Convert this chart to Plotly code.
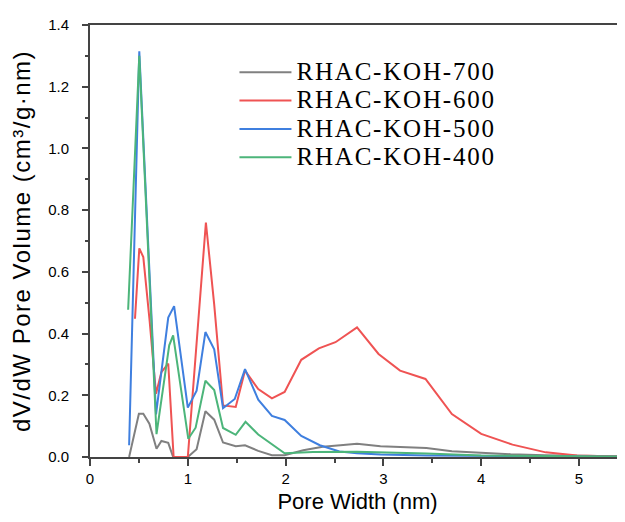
import plotly.graph_objects as go

# Pore width (nm) and dV/dW (cm3/g/nm)
x_700 = [0.40, 0.50, 0.545, 0.607, 0.68, 0.73, 0.80, 0.85, 1.00, 1.09, 1.18, 1.27, 1.36, 1.49, 1.585,
         1.72, 1.86, 1.99, 2.18, 2.38, 2.56, 2.73, 2.97, 3.20, 3.44, 3.70, 4.00, 4.30, 4.65, 5.00, 5.30, 5.60]
y_700 = [0.0, 0.140, 0.140, 0.108, 0.027, 0.052, 0.046, 0.0, 0.0, 0.025, 0.148, 0.121, 0.047, 0.035, 0.038,
         0.020, 0.006, 0.006, 0.022, 0.033, 0.038, 0.043, 0.035, 0.032, 0.029, 0.019, 0.013, 0.009, 0.006, 0.004, 0.002, 0.001]

x_600 = [0.46, 0.504, 0.545, 0.61, 0.675, 0.73, 0.80, 0.855, 1.00, 1.185, 1.27, 1.36, 1.49, 1.585,
         1.72, 1.86, 1.99, 2.16, 2.34, 2.51, 2.73, 2.95, 3.17, 3.43, 3.70, 4.00, 4.32, 4.66, 4.98, 5.30, 5.60]
y_600 = [0.448, 0.676, 0.648, 0.44, 0.205, 0.275, 0.303, 0.0, 0.0, 0.760, 0.494, 0.167, 0.162, 0.280,
         0.220, 0.190, 0.211, 0.315, 0.352, 0.372, 0.420, 0.334, 0.280, 0.253, 0.139, 0.075, 0.040, 0.015, 0.005, 0.001, 0.0]

x_500 = [0.40, 0.504, 0.675, 0.80, 0.86, 1.00, 1.09, 1.18, 1.27, 1.36, 1.48, 1.585, 1.72, 1.86, 1.99,
         2.16, 2.35, 2.55, 2.73, 2.97, 3.44, 4.00, 4.65, 5.30, 5.60]
y_500 = [0.038, 1.315, 0.138, 0.452, 0.489, 0.160, 0.215, 0.405, 0.349, 0.158, 0.188, 0.285, 0.186, 0.133, 0.120,
         0.068, 0.038, 0.018, 0.012, 0.008, 0.005, 0.004, 0.002, 0.001, 0.0]

x_400 = [0.39, 0.504, 0.68, 0.81, 0.85, 1.005, 1.08, 1.18, 1.27, 1.36, 1.49, 1.59, 1.72, 1.86, 1.99,
         2.28, 2.73, 3.44, 4.00, 4.65, 5.30, 5.60]
y_400 = [0.477, 1.300, 0.074, 0.362, 0.394, 0.059, 0.095, 0.247, 0.217, 0.094, 0.072, 0.114, 0.073, 0.042, 0.012,
         0.016, 0.017, 0.011, 0.005, 0.003, 0.002, 0.001]

series_names = ["RHAC-KOH-700", "RHAC-KOH-600", "RHAC-KOH-500", "RHAC-KOH-400"]
series_x = [x_700, x_600, x_500, x_400]
series_y = [y_700, y_600, y_500, y_400]
series_colors = ["#808080", "#ef5353", "#3f7fdf", "#4cb57a"]

x_ticks = [0, 1, 2, 3, 4, 5]
y_ticks = [0.0, 0.2, 0.4, 0.6, 0.8, 1.0, 1.2, 1.4]

fig = go.Figure()
for name, xs, ys, col in zip(series_names, series_x, series_y, series_colors):
    label = f'<span style="font-size:25px;letter-spacing:1.8px">{name}</span>'
    fig.add_trace(go.Scatter(x=xs, y=ys, mode="lines", name=label,
                             line=dict(color=col, width=2)))

axis_col = "#444444"
fig.update_layout(
    width=617, height=514,
    margin=dict(l=82, r=0, t=17, b=65),
    paper_bgcolor="white", plot_bgcolor="white",
    font=dict(family="Liberation Sans, Arial, sans-serif", color="black", size=15),
    legend=dict(x=0.27, y=0.935, xanchor="left", yanchor="top",
                font=dict(family="Liberation Serif, Times New Roman, serif", size=19.5, color="black"),
                bgcolor="rgba(0,0,0,0)", itemwidth=52, tracegroupgap=0),
    showlegend=True,
)
fig.update_xaxes(
    range=[0, 5.47], tickvals=x_ticks, ticktext=[str(v) for v in x_ticks],
    showgrid=False, zeroline=False,
    showline=True, linecolor=axis_col, linewidth=2, mirror=True,
    ticks="outside", ticklen=7, tickwidth=1.5, tickcolor=axis_col,
    minor=dict(dtick=0.5, ticks="outside", ticklen=4, tickwidth=1.5, tickcolor=axis_col),
    tickfont=dict(size=15),
    title=dict(text="Pore Width (nm)", font=dict(size=22), standoff=8),
)
fig.update_yaxes(
    range=[0, 1.4], tickvals=y_ticks, ticktext=[f"{v:.1f}" for v in y_ticks],
    showgrid=False, zeroline=False,
    showline=True, linecolor=axis_col, linewidth=2, mirror=False,
    ticks="outside", ticklen=6, tickwidth=1.5, tickcolor=axis_col,
    minor=dict(dtick=0.1, ticks="outside", ticklen=3, tickwidth=1.5, tickcolor=axis_col),
    tickfont=dict(size=15), ticklabelstandoff=10,
    title=dict(text='<span style="letter-spacing:1.5px">dV/dW Pore Volume (cm³/g·nm)</span>',
               font=dict(size=24), standoff=14),
)

fig.write_html("out.html")
